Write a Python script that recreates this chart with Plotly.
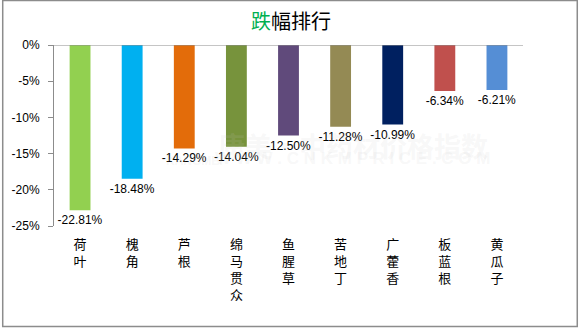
import plotly.graph_objects as go

# Drop ranking data (percent change)
herbs = ["荷叶", "槐角", "芦根", "绵马贯众", "鱼腥草", "苦地丁", "广藿香", "板蓝根", "黄瓜子"]
changes = [-22.81, -18.48, -14.29, -14.04, -12.50, -11.28, -10.99, -6.34, -6.21]
bar_colors = ["#92d050", "#00b0f0", "#e36c0a", "#77933c", "#604a7b",
              "#948a54", "#002060", "#c0504d", "#558ed5"]
y_ticks = [0, -5, -10, -15, -20, -25]
y_tick_labels = ["0%", "-5%", "-10%", "-15%", "-20%", "-25%"]

W, H = 579, 328
L, R, T, B = 52, 56, 45, 102
PW, PH = W - L - R, H - T - B


def px(x):
    return (x - L) / PW


def py(y):
    return 1 - (y - T) / PH


# category labels written vertically, one character per line
vertical_labels = ["<br>".join(name) for name in herbs]

fig = go.Figure()
fig.add_trace(go.Bar(
    x=herbs,
    y=changes,
    marker=dict(color=bar_colors, line=dict(width=0)),
    width=0.4,
    text=[f"{v:.2f}%" for v in changes],
    textposition="outside",
    constraintext="none",
    textfont=dict(family="Liberation Sans, Arial", size=12, color="#000000"),
    cliponaxis=False,
    hoverinfo="skip",
))

wm_color = "rgba(200,200,200,0.14)"
annotations = [
    # title with the first character highlighted
    dict(text='<span style="color:#00b050">跌</span>幅排行',
         x=px(290), y=py(20), xref="paper", yref="paper",
         showarrow=False, xanchor="center", yanchor="middle",
         font=dict(family="Noto Sans CJK SC", size=20, color="#000000")),
    # faint site watermark
    dict(text="<b>康美·中药材价格指数</b>", x=px(352), y=py(145),
         xref="paper", yref="paper", showarrow=False,
         font=dict(family="Noto Sans CJK SC", size=27, color=wm_color)),
    dict(text="<b>W W W . C N K M P R I C E . C O M</b>", x=px(352), y=py(170),
         xref="paper", yref="paper", showarrow=False,
         font=dict(family="Liberation Sans, Arial", size=17, color=wm_color)),
    dict(text="<b>KANGMEI</b>", x=px(162), y=py(170),
         xref="paper", yref="paper", showarrow=False,
         font=dict(family="Liberation Sans, Arial", size=12, color=wm_color)),
]

shapes = [
    # category axis line at zero
    dict(type="line", xref="paper", yref="y", x0=0, x1=1, y0=0, y1=0,
         line=dict(color="#8c8c8c", width=1)),
    # outer frame
    dict(type="rect", xref="paper", yref="paper",
         x0=px(0.5), x1=px(577.5), y0=py(326.5), y1=py(0.5),
         line=dict(color="#8c8c8c", width=1.5)),
]

fig.update_layout(
    width=W, height=H,
    margin=dict(l=L, r=R, t=T, b=B, pad=0),
    paper_bgcolor="#ffffff",
    plot_bgcolor="#ffffff",
    showlegend=False,
    bargap=0.6,
    annotations=annotations,
    shapes=shapes,
    font=dict(family="Liberation Sans, Arial", color="#000000"),
)

fig.update_xaxes(
    tickmode="array", tickvals=herbs, ticktext=vertical_labels,
    tickfont=dict(family="Noto Sans CJK SC", size=13, color="#000000"),
    showline=False, showgrid=False, zeroline=False, ticks="",
    ticklabelstandoff=9,
)

fig.update_yaxes(
    range=[-25, 0],
    tickmode="array", tickvals=y_ticks, ticktext=y_tick_labels,
    tickfont=dict(family="Liberation Sans, Arial", size=12, color="#000000"),
    showline=True, linecolor="#8c8c8c", linewidth=1,
    ticks="outside", ticklen=5, tickcolor="#8c8c8c",
    showgrid=False, zeroline=False,
    ticklabelstandoff=6,
)

fig.write_html("out.html")
